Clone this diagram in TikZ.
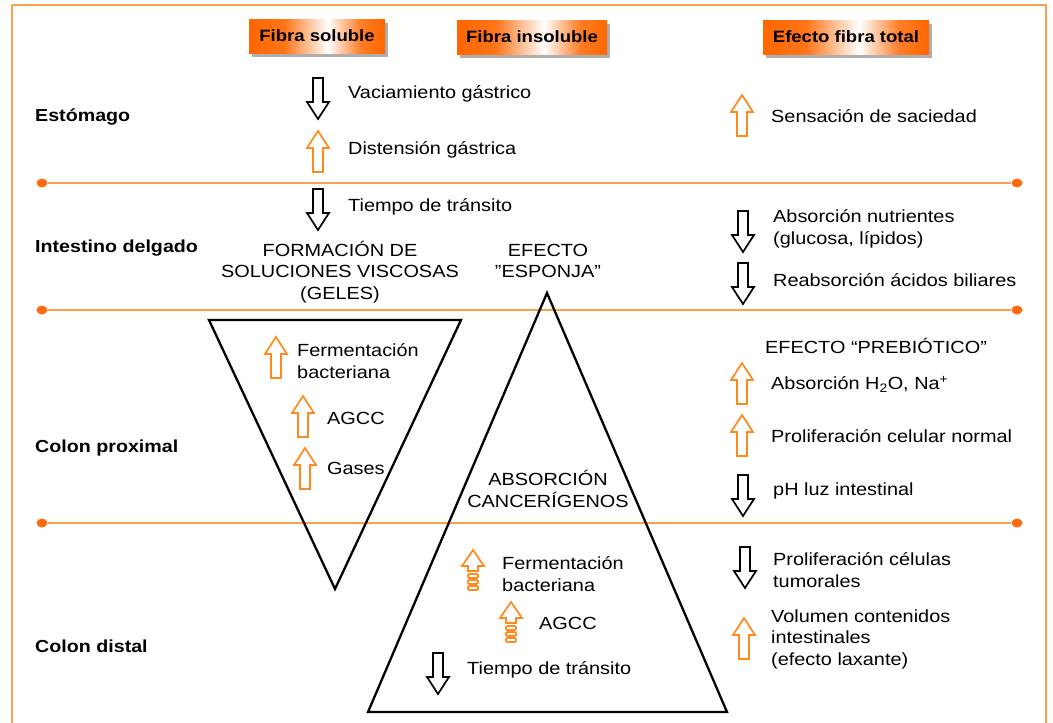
\documentclass[tikz,border=0pt]{standalone}
\usepackage{fontspec}
\setmainfont{Liberation Sans}[FakeStretch=1.13]
\usetikzlibrary{shadows,shapes.geometric}

\definecolor{lineor}{HTML}{FBA24E}
\definecolor{dotor}{HTML}{FF6A10}
\definecolor{arrowor}{HTML}{FF8A1E}
\definecolor{heador}{HTML}{FF6600}

% orange at both ends, white a little right of the middle
\pgfdeclarehorizontalshading{hdrshade}{100bp}{%
  color(0bp)=(heador); color(25bp)=(heador); color(38bp)=(heador!90!white);
  color(54bp)=(white); color(66bp)=(heador!85!white); color(75bp)=(heador);
  color(100bp)=(heador)}

\tikzset{
  txt/.style={font=\fontsize{17.6}{21.5}\selectfont, inner sep=0pt, anchor=west, align=left},
  ctxt/.style={font=\fontsize{17.6}{21.5}\selectfont, inner sep=0pt, align=center},
  region/.style={font=\bfseries\fontsize{17.4}{20}\selectfont, inner sep=0pt, anchor=west},
  headbox/.style={font=\bfseries\fontsize{16.4}{18}\selectfont, minimum height=34pt,
    inner sep=0pt, shading=hdrshade,
    drop shadow={shadow xshift=3pt, shadow yshift=-4pt, opacity=.45, fill=black!70}},
  dotend/.style={ellipse, fill=dotor, inner sep=0pt, minimum width=11pt, minimum height=9pt},
  sepline/.style={draw=lineor, line width=2.3pt},
  tri/.style={draw=black, line width=2.3pt, line join=miter},
  dnarrow/.pic={
    \draw[line width=1.7pt, line join=miter]
      (-5,0) -- (5,0) -- (5,24) -- (11,24) -- (0,41) -- (-11,24) -- (-5,24) -- cycle;},
  uparrow/.pic={
    \draw[arrowor, line width=1.7pt, line join=miter]
      (-5,41) -- (5,41) -- (5,17) -- (11,17) -- (0,0) -- (-11,17) -- (-5,17) -- cycle;},
  striparrow/.pic={
    \draw[arrowor, line width=1.7pt, line join=miter]
      (-5,21) -- (-5,16) -- (-11,16) -- (0,0) -- (11,16) -- (5,16) -- (5,21) -- cycle;
    \foreach \yy in {24,30,36}
      \draw[arrowor, line width=1.6pt, rounded corners=1pt] (-5,\yy) rectangle (5,\yy+4);}
}

\begin{document}
\begin{tikzpicture}[x=1pt,y=-1pt]
\useasboundingbox (0,0) rectangle (1053,723);
\fill[white] (0,0) rectangle (1053,723);

% outer frame
\draw[lineor, line width=2.2pt] (12,5) -- (1046,5) -- (1046,735) (12,5) -- (12,735);

% column headers
\node[headbox, minimum width=136pt] (hsol) at (317,36) {Fibra soluble};
\node[headbox, minimum width=150pt] (hins) at (532,37) {Fibra insoluble};
\node[headbox, minimum width=166pt] (htot) at (846,37) {Efecto fibra total};

% section separators
\node[dotend] (s1a) at (42,183) {};
\node[dotend] (s1b) at (1017,183) {};
\node[dotend] (s2a) at (42,310) {};
\node[dotend] (s2b) at (1017,310) {};
\node[dotend] (s3a) at (42,523) {};
\node[dotend] (s3b) at (1017,523) {};
\draw[sepline] (s1a) -- (s1b);
\draw[sepline] (s2a) -- (s2b);
\draw[sepline] (s3a) -- (s3b);

% triangles
\draw[tri] (209,320) -- (461,320) -- (335,589) -- cycle;
\draw[tri] (547,293) -- (727,712) -- (368,712) -- cycle;

% region labels
\node[region] (rest) at (35,117) {Estómago};
\node[region] (rint) at (35,248) {Intestino delgado};
\node[region] (rcp) at (35,448) {Colon proximal};
\node[region] (rcd) at (35,646) {Colon distal};

% stomach
\pic at (318,78) {dnarrow};
\node[txt] (t1) at (348,94) {Vaciamiento gástrico};
\pic at (318,131) {uparrow};
\node[txt] (t2) at (348,150) {Distensión gástrica};
\pic at (742,95) {uparrow};
\node[txt] (t3) at (771,116) {Sensación de saciedad};

% small intestine
\pic at (318,189) {dnarrow};
\node[txt] (t4) at (348,207) {Tiempo de tránsito};
\node[ctxt] (t5) at (340,272) {FORMACIÓN DE\\SOLUCIONES VISCOSAS\\(GELES)};
\node[ctxt] (t6) at (548,261) {EFECTO\\"ESPONJA"};
\pic at (743,211) {dnarrow};
\node[txt] (t7) at (773,229) {Absorción nutrientes\\(glucosa, lípidos)};
\pic at (743,263) {dnarrow};
\node[txt] (t8) at (773,280) {Reabsorción ácidos biliares};

% proximal colon
\pic at (276,337) {uparrow};
\node[txt] (t9) at (297,361) {Fermentación\\bacteriana};
\pic at (303,396) {uparrow};
\node[txt] (t10) at (327,418) {AGCC};
\pic at (305,448) {uparrow};
\node[txt] (t11) at (327,468) {Gases};
\node[ctxt] (t12) at (548,489) {ABSORCIÓN\\CANCERÍGENOS};
\node[txt] (t13) at (765,346) {EFECTO “PREBIÓTICO”};
\pic at (742,363) {uparrow};
\node[txt] (t14) at (771,384) {Absorción H\textsubscript{2}O, Na\textsuperscript{+}};
\pic at (742,415) {uparrow};
\node[txt] (t15) at (771,436) {Proliferación celular normal};
\pic at (743,475) {dnarrow};
\node[txt] (t16) at (773,491) {pH luz intestinal};

% distal colon
\pic at (473,550) {striparrow};
\node[txt] (t17) at (502,574) {Fermentación\\bacteriana};
\pic at (511,602) {striparrow};
\node[txt] (t18) at (539,623) {AGCC};
\pic at (438,653) {dnarrow};
\node[txt] (t19) at (467,670) {Tiempo de tránsito};
\pic at (745,547) {dnarrow};
\node[txt] (t20) at (773,570) {Proliferación células\\tumorales};
\pic at (744,618) {uparrow};
\node[txt] (t21) at (771,639) {Volumen contenidos\\intestinales\\(efecto laxante)};
\end{tikzpicture}
\end{document}
